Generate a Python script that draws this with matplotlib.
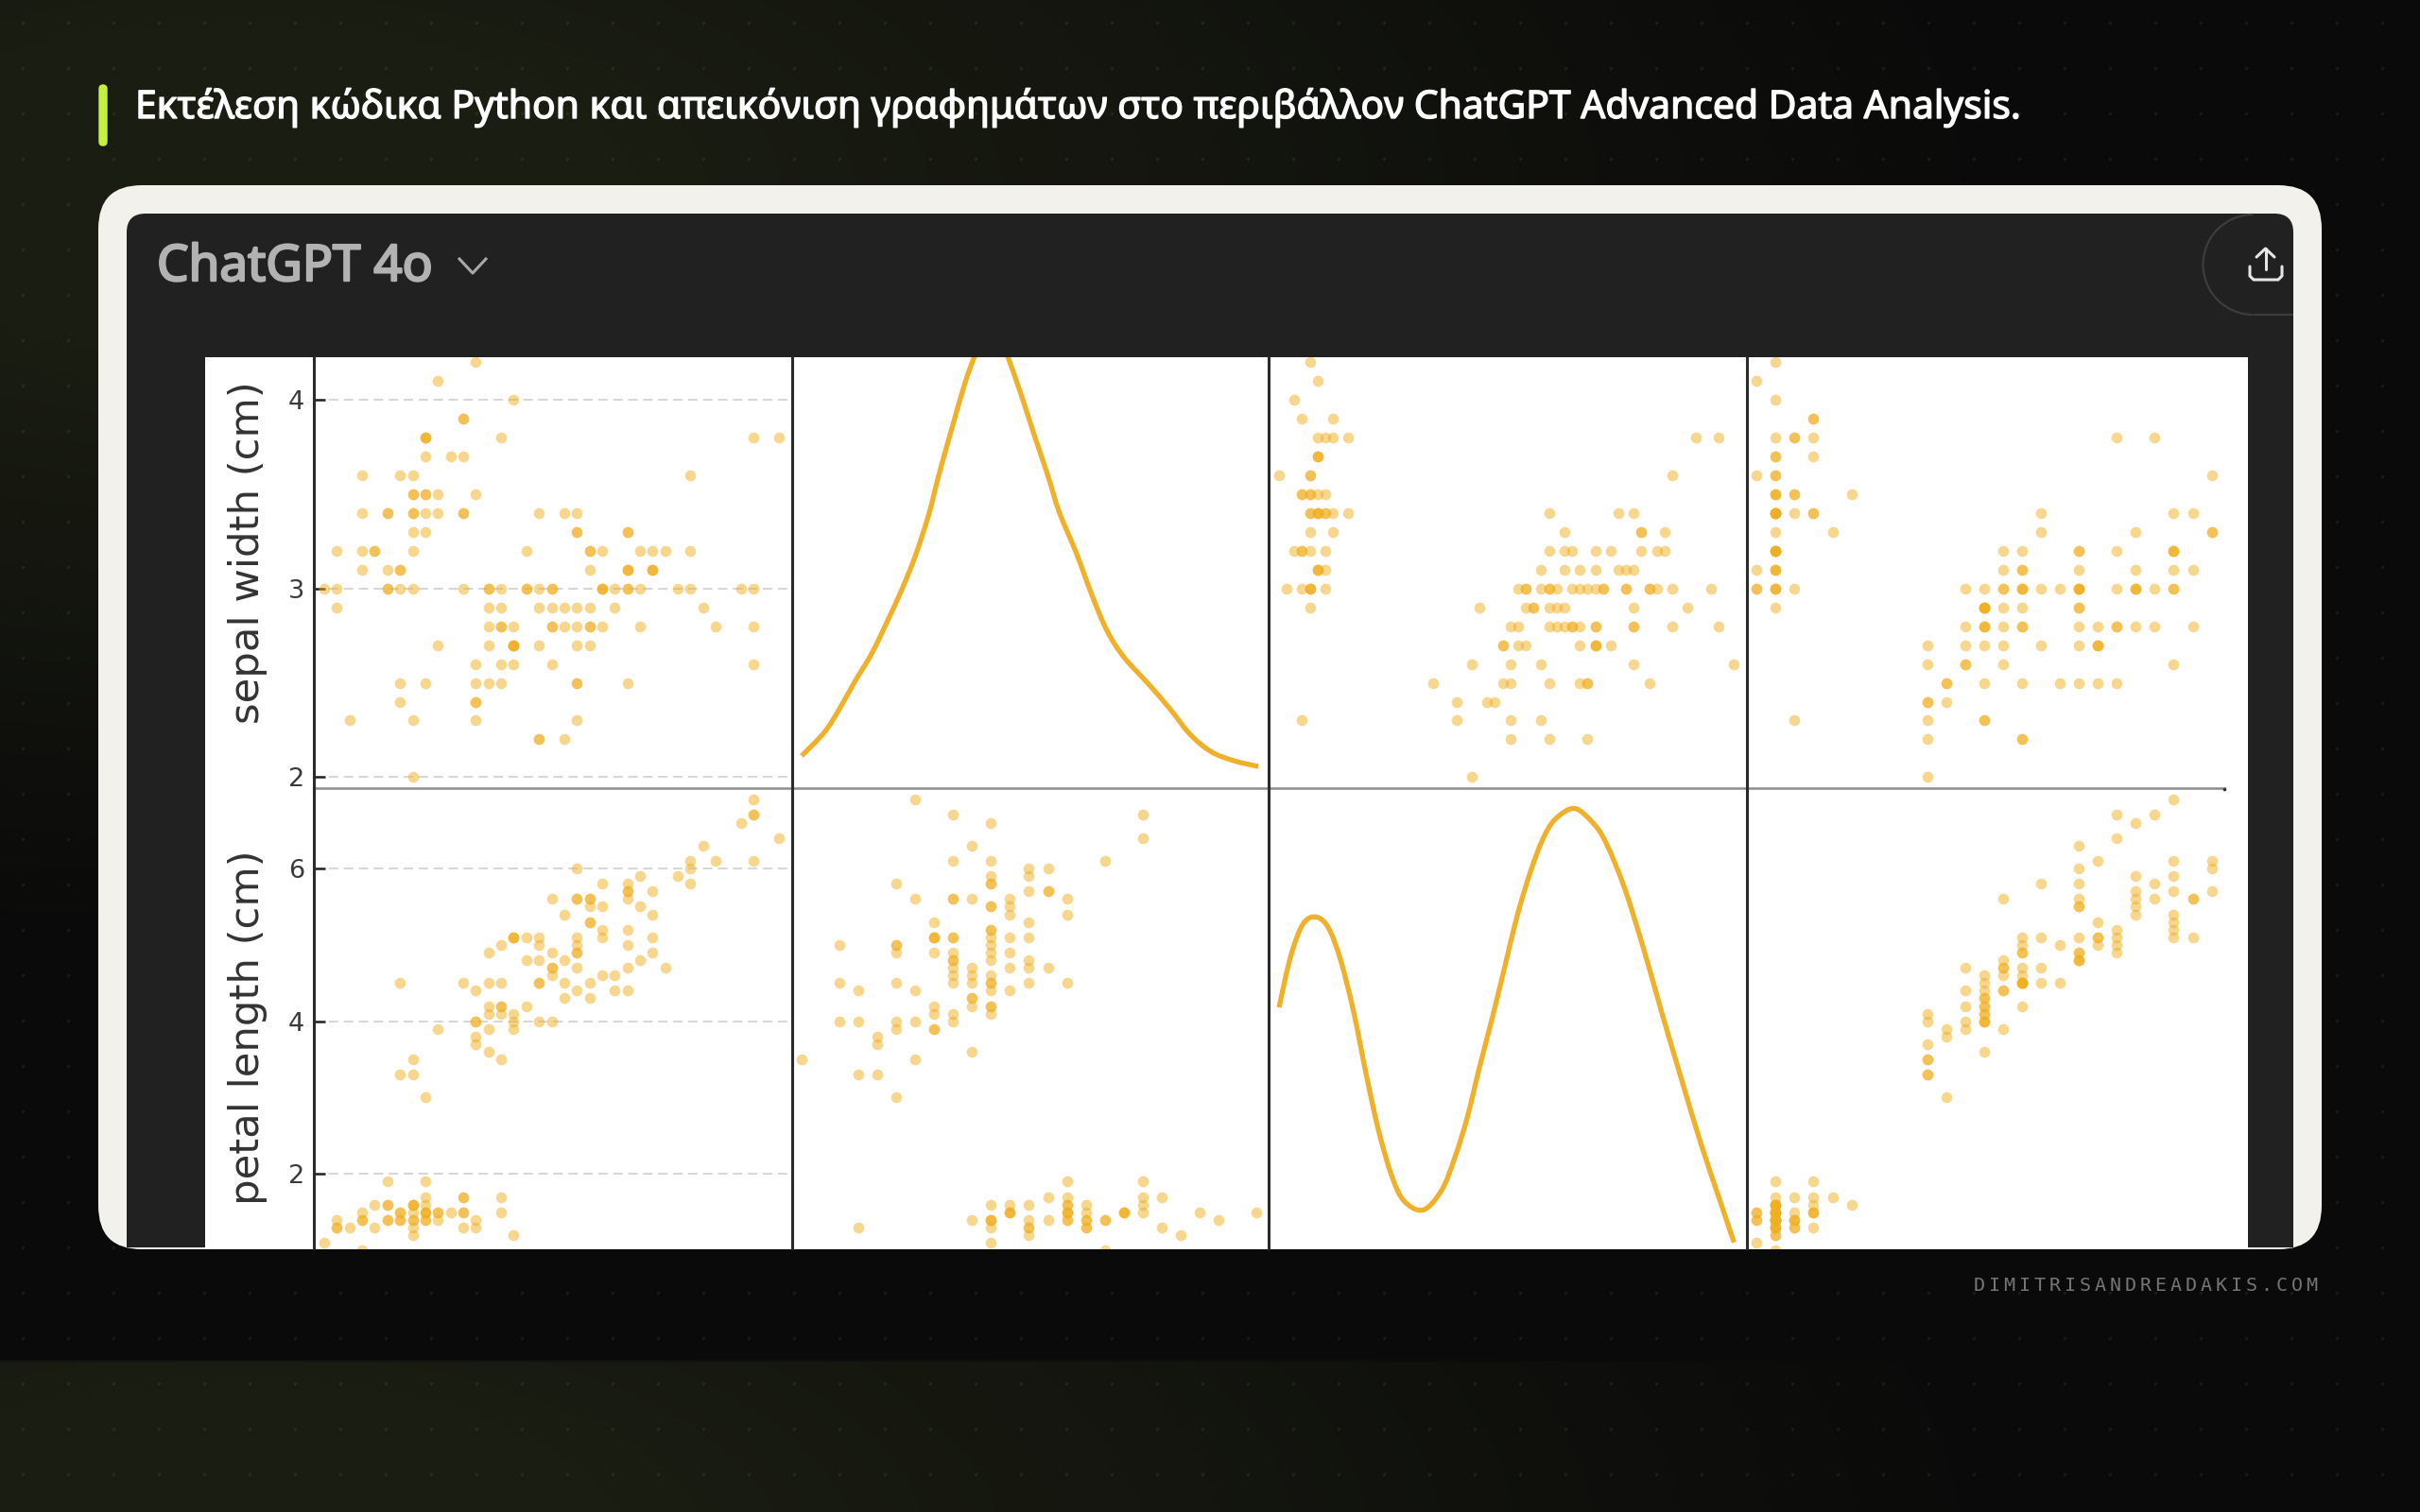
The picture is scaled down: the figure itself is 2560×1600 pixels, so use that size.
#!/usr/bin/env python
# -*- coding: utf-8 -*-
import numpy as np
import matplotlib
matplotlib.use('Agg')
import matplotlib.pyplot as plt
import matplotlib.patheffects as pe
from matplotlib.patches import FancyBboxPatch, Rectangle, PathPatch, Arc
from matplotlib.path import Path

# iris measurements shown in the pair plot
sepal_length = [5.1,4.9,4.7,4.6,5.0,5.4,4.6,5.0,4.4,4.9,5.4,4.8,4.8,4.3,5.8,5.7,5.4,5.1,5.7,5.1,5.4,5.1,4.6,5.1,4.8,
                5.0,5.0,5.2,5.2,4.7,4.8,5.4,5.2,5.5,4.9,5.0,5.5,4.9,4.4,5.1,5.0,4.5,4.4,5.0,5.1,4.8,5.1,4.6,5.3,5.0,
                7.0,6.4,6.9,5.5,6.5,5.7,6.3,4.9,6.6,5.2,5.0,5.9,6.0,6.1,5.6,6.7,5.6,5.8,6.2,5.6,5.9,6.1,6.3,6.1,6.4,
                6.6,6.8,6.7,6.0,5.7,5.5,5.5,5.8,6.0,5.4,6.0,6.7,6.3,5.6,5.5,5.5,6.1,5.8,5.0,5.6,5.7,5.7,6.2,5.1,5.7,
                6.3,5.8,7.1,6.3,6.5,7.6,4.9,7.3,6.7,7.2,6.5,6.4,6.8,5.7,5.8,6.4,6.5,7.7,7.7,6.0,6.9,5.6,7.7,6.3,6.7,
                7.2,6.2,6.1,6.4,7.2,7.4,7.9,6.4,6.3,6.1,7.7,6.3,6.4,6.0,6.9,6.7,6.9,5.8,6.8,6.7,6.7,6.3,6.5,6.2,5.9]
sepal_width = [3.5,3.0,3.2,3.1,3.6,3.9,3.4,3.4,2.9,3.1,3.7,3.4,3.0,3.0,4.0,4.4,3.9,3.5,3.8,3.8,3.4,3.7,3.6,3.3,3.4,
               3.0,3.4,3.5,3.4,3.2,3.1,3.4,4.1,4.2,3.1,3.2,3.5,3.6,3.0,3.4,3.5,2.3,3.2,3.5,3.8,3.0,3.8,3.2,3.7,3.3,
               3.2,3.2,3.1,2.3,2.8,2.8,3.3,2.4,2.9,2.7,2.0,3.0,2.2,2.9,2.9,3.1,3.0,2.7,2.2,2.5,3.2,2.8,2.5,2.8,2.9,
               3.0,2.8,3.0,2.9,2.6,2.4,2.4,2.7,2.7,3.0,3.4,3.1,2.3,3.0,2.5,2.6,3.0,2.6,2.3,2.7,3.0,2.9,2.9,2.5,2.8,
               3.3,2.7,3.0,2.9,3.0,3.0,2.5,2.9,2.5,3.6,3.2,2.7,3.0,2.5,2.8,3.2,3.0,3.8,2.6,2.2,3.2,2.8,2.8,2.7,3.3,
               3.2,2.8,3.0,2.8,3.0,2.8,3.8,2.8,2.8,2.6,3.0,3.4,3.1,3.0,3.1,3.1,3.1,2.7,3.2,3.3,3.0,2.5,3.0,3.4,3.0]
petal_length = [1.4,1.4,1.3,1.5,1.4,1.7,1.4,1.5,1.4,1.5,1.5,1.6,1.4,1.1,1.2,1.5,1.3,1.4,1.7,1.5,1.7,1.5,1.0,1.7,1.9,
                1.6,1.6,1.5,1.4,1.6,1.6,1.5,1.5,1.4,1.5,1.2,1.3,1.4,1.3,1.5,1.3,1.3,1.3,1.6,1.9,1.4,1.6,1.4,1.5,1.4,
                4.7,4.5,4.9,4.0,4.6,4.5,4.7,3.3,4.6,3.9,3.5,4.2,4.0,4.7,3.6,4.4,4.5,4.1,4.5,3.9,4.8,4.0,4.9,4.7,4.3,
                4.4,4.8,5.0,4.5,3.5,3.8,3.7,3.9,5.1,4.5,4.5,4.7,4.4,4.1,4.0,4.4,4.6,4.0,3.3,4.2,4.2,4.2,4.3,3.0,4.1,
                6.0,5.1,5.9,5.6,5.8,6.6,4.5,6.3,5.8,6.1,5.1,5.3,5.5,5.0,5.1,5.3,5.5,6.7,6.9,5.0,5.7,4.9,6.7,4.9,5.7,
                6.0,4.8,4.9,5.6,5.8,6.1,6.4,5.6,5.1,5.6,6.1,5.6,5.5,4.8,5.4,5.6,5.1,5.1,5.9,5.7,5.2,5.0,5.2,5.4,5.1]
petal_width = [0.2,0.2,0.2,0.2,0.2,0.4,0.3,0.2,0.2,0.1,0.2,0.2,0.1,0.1,0.2,0.4,0.4,0.3,0.3,0.3,0.2,0.4,0.2,0.5,0.2,
               0.2,0.4,0.2,0.2,0.2,0.2,0.4,0.1,0.2,0.2,0.2,0.2,0.1,0.2,0.2,0.3,0.3,0.2,0.6,0.4,0.3,0.2,0.2,0.2,0.2,
               1.4,1.5,1.5,1.3,1.5,1.3,1.6,1.0,1.3,1.4,1.0,1.5,1.0,1.4,1.3,1.4,1.5,1.0,1.5,1.1,1.8,1.3,1.5,1.2,1.3,
               1.4,1.4,1.7,1.5,1.0,1.1,1.0,1.2,1.6,1.5,1.6,1.5,1.3,1.3,1.3,1.2,1.4,1.2,1.0,1.3,1.2,1.3,1.3,1.1,1.3,
               2.5,1.9,2.1,1.8,2.2,2.1,1.7,1.8,1.8,2.5,2.0,1.9,2.1,2.0,2.4,2.3,1.8,2.2,2.3,1.5,2.3,2.0,2.0,1.8,2.1,
               1.8,1.8,1.8,2.1,1.6,1.9,2.0,2.2,1.5,1.4,2.3,2.4,1.8,1.8,2.1,2.4,2.3,1.9,2.3,2.5,2.3,1.9,2.0,2.3,1.8]

# density curves on the diagonal
kde_sw_x = [2.00,2.12,2.20,2.28,2.37,2.45,2.53,2.60,2.67,2.73,2.80,2.86,2.91,2.96,3.00,3.04,3.09,
            3.16,3.23,3.30,3.36,3.45,3.53,3.61,3.70,3.83,3.95,4.05,4.16,4.28,4.41]
kde_sw_y = [0.052,0.101,0.150,0.206,0.265,0.330,0.399,0.468,0.553,0.645,0.743,0.825,0.881,0.93,0.95,0.93,0.881,
            0.802,0.717,0.635,0.559,0.474,0.389,0.314,0.258,0.202,0.147,0.097,0.061,0.042,0.030]
kde_pl_x = [1.00,1.15,1.31,1.48,1.64,1.80,1.97,2.13,2.29,2.46,2.62,2.87,3.11,3.28,3.44,3.60,3.77,3.93,
            4.09,4.26,4.42,4.58,4.83,5.07,5.24,5.48,5.73,5.97,6.22,6.46,6.71,6.90]
kde_pl_y = [0.140,0.168,0.186,0.190,0.184,0.166,0.137,0.103,0.072,0.047,0.033,0.028,0.039,0.057,0.079,0.107,
            0.135,0.163,0.191,0.215,0.233,0.244,0.250,0.242,0.231,0.206,0.172,0.136,0.100,0.066,0.034,0.010]

title = 'Εκτέλεση κώδικα Python και απεικόνιση γραφημάτων στο περιβάλλον ChatGPT Advanced Data Analysis.'
model_name = 'ChatGPT 4o'
watermark = 'DIMITRISANDREADAKIS.COM'
row_labels = ['sepal width (cm)', 'petal length (cm)']
row_ticks = [[2, 3, 4], [2, 4, 6]]

W, H = 2560, 1600
POINT = '#f1ae1e'
LINE = '#f0b02a'


def smooth_path(xs, ys):
    # bezier segments through the read points, so the curve has no corners
    p = np.column_stack([xs, ys])
    verts = [p[0]]
    codes = [Path.MOVETO]
    for i in range(len(p) - 1):
        p0 = p[max(i - 1, 0)]
        p3 = p[min(i + 2, len(p) - 1)]
        verts += [p[i] + (p[i + 1] - p0) / 6.0, p[i + 1] - (p3 - p[i]) / 6.0, p[i + 1]]
        codes += [Path.CURVE4] * 3
    return Path(verts, codes)


fig = plt.figure(figsize=(W / 100, H / 100), dpi=100)

# page background
bg = fig.add_axes([0, 0, 1, 1])
yy, xx = np.mgrid[0:H:4, 0:W:4]
yy_rep = yy % 1440
r = np.sqrt(((xx - 250) / 1900.0) ** 2 + ((yy_rep - 200) / 800.0) ** 2)
t = np.clip((r - 0.22) / 0.78, 0, 1)
c0 = np.array([0x1a, 0x1d, 0x12]) / 255.0
c1 = np.array([0x0a, 0x0a, 0x0a]) / 255.0
img = c0[None, None, :] * (1 - t[..., None]) + c1[None, None, :] * t[..., None]
bg.imshow(img, extent=(0, W, H, 0), aspect='auto', zorder=0, interpolation='bilinear')
bg.set_xlim(0, W)
bg.set_ylim(H, 0)
bg.axis('off')

gx, gy = np.meshgrid(np.arange(24, W, 48), np.arange(24, H, 48))
bg.scatter(gx.ravel(), gy.ravel(), s=6, color='white', alpha=0.07, linewidths=0, zorder=1)

# accent bar and heading
bg.add_patch(FancyBboxPatch((105, 90), 8, 64, boxstyle='round,pad=0,rounding_size=4',
                            fc='#c5f042', ec='#c5f042', lw=1, zorder=2))
bg.text(143, 125, title, color='white', fontsize=29.4, family='Noto Sans',
        va='baseline', ha='left', zorder=3,
        path_effects=[pe.withStroke(linewidth=1.0, foreground='white')])

# card with dark screenshot panel
card = FancyBboxPatch((104, 196), 2352, 1126, boxstyle='round,pad=0,rounding_size=46',
                      fc='#f2f1ec', ec='none', zorder=2)
bg.add_patch(card)
top = FancyBboxPatch((134, 226), 2292, 120, boxstyle='round,pad=0,rounding_size=20',
                     fc='#212121', ec='none', zorder=3)
bg.add_patch(top)
panel = Rectangle((134, 260), 2292, 1060, fc='#212121', ec='none', zorder=3)
bg.add_patch(panel)
panel.set_clip_path(card)

bg.text(166, 297, model_name, color='#b2b2b2', fontsize=38.2, family='Noto Sans',
        va='baseline', ha='left', zorder=4,
        path_effects=[pe.withStroke(linewidth=1.7, foreground='#b2b2b2')])
bg.plot([486, 500, 514], [274, 289, 274], color='#a8a8a8', lw=2.2, zorder=4)

# share button, cut off by the panel edge
btn = '#3d3d3d'
bg.add_patch(Arc((2383.5, 280), 106, 106, theta1=90, theta2=270, ec=btn, lw=1.6, zorder=4))
bg.plot([2383.5, 2426], [333, 333], color=btn, lw=1.6, zorder=4, solid_capstyle='butt')
icon = '#e6e6e6'
bg.plot([2396.5, 2396.5], [263, 285], color=icon, lw=2.2, zorder=5, solid_capstyle='round')
bg.plot([2387, 2396.5, 2406], [272, 263, 272], color=icon, lw=2.2, zorder=5, solid_capstyle='round')
bg.plot([2380, 2380, 2384, 2410, 2414, 2414], [282, 292, 296, 296, 292, 282], color=icon, lw=2.2, zorder=5,
        solid_capstyle='round')

# white picture behind the pair plot
bg.add_patch(Rectangle((216.5, 378.3), 2161, 942.4, fc='white', ec='none', zorder=4))

# site name, letter spaced
for i, ch in enumerate(watermark):
    bg.text(2087.5 + i * 16.0, 1366, ch, color='#757575', fontsize=14.4, family='DejaVu Sans Mono',
            va='baseline', ha='left', zorder=3)

# pair plot grid
col_edges = [(332, 837.5), (837.5, 1342), (1342, 1848), (1848, 2352.8)]
row_edges = [(378.3, 833.7), (833.7, 1320.7)]
col_lims = [(4.2177, 8.001), (1.9476, 4.465), (0.865, 7.067), (0.0487, 2.566)]
row_lims = [(1.943, 4.2256), (1.03, 7.056)]
kde_lims = [(-0.0146, 0.881), (0.0069, 0.2614)]
col_data = [sepal_length, sepal_width, petal_length, petal_width]
row_data = [sepal_width, petal_length]
diag = {(0, 1): (kde_sw_x, kde_sw_y), (1, 2): (kde_pl_x, kde_pl_y)}
label_y = [0.546, 0.480]

for r_i, (top_px, bot_px) in enumerate(row_edges):
    for c, (left_px, right_px) in enumerate(col_edges):
        ax = fig.add_axes([left_px / W, 1 - bot_px / H, (right_px - left_px) / W, (bot_px - top_px) / H])
        ax.patch.set_alpha(0)
        ax.set_xlim(col_lims[c])

        if (r_i, c) in diag:
            xs, ys = diag[(r_i, c)]
            ax.add_patch(PathPatch(smooth_path(xs, ys), fc='none', ec=LINE, lw=3.8, capstyle='butt'))
            ax.set_ylim(kde_lims[r_i])
        else:
            ax.scatter(col_data[c], row_data[r_i], s=70, color=POINT, alpha=0.5, linewidths=0, zorder=3)
            ax.set_ylim(row_lims[r_i])

        for s in ['top', 'right', 'bottom', 'left']:
            ax.spines[s].set_visible(False)
        ax.spines['left'].set_visible(True)
        ax.spines['left'].set_linewidth(2.2)
        ax.spines['left'].set_color('#2b2b2b')
        if r_i == 0:
            ax.spines['bottom'].set_visible(True)
            ax.spines['bottom'].set_linewidth(1.8)
            ax.spines['bottom'].set_color('#8c8c8c')

        ax.set_xticks([])
        if c == 0:
            ax.set_yticks(row_ticks[r_i])
            ax.tick_params(axis='y', direction='in', length=8.6, width=1.8, color='#222222',
                           labelsize=19.5, labelcolor='#3a3a3a', pad=7)
            ax.grid(axis='y', color='#cfcfcf', lw=1.2, ls=(0, (6, 3.5)), zorder=1)
            ax.set_axisbelow(True)
            ax.set_ylabel(row_labels[r_i], fontsize=31.2, color='#333333')
            ax.yaxis.set_label_coords((283 - left_px) / (right_px - left_px), label_y[r_i])
        else:
            ax.set_yticks([])

# small cap at the end of the row separator
top_ax = fig.add_axes([0, 0, 1, 1])
top_ax.set_xlim(0, W)
top_ax.set_ylim(H, 0)
top_ax.axis('off')
top_ax.scatter([2352.5], [834.5], s=7, color='#333333', linewidths=0)

fig.savefig('out.png', dpi=100)
plt.close()
